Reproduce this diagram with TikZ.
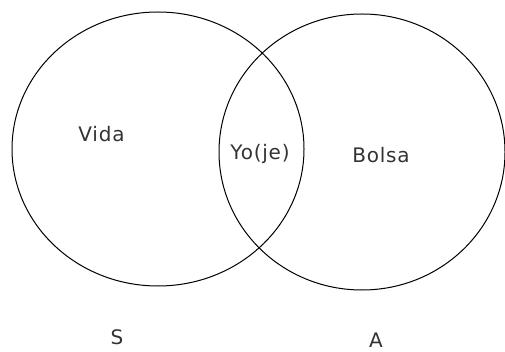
\documentclass[tikz,border=0pt]{standalone}
\usepackage{fontspec}
\setmainfont{DejaVu Sans}[LetterSpace=4]
\usetikzlibrary{shapes.geometric}

\begin{document}
\begin{tikzpicture}
[x=1pt,y=-1pt
,set/.style={ellipse,draw=black,line width=1pt,inner sep=0pt}
,lbl/.style={anchor=base,inner sep=0pt,text=black!80,font=\fontsize{20}{24}\selectfont}
]
\useasboundingbox (0,0) rectangle (505,352);
\node[set,minimum width=292pt,minimum height=274pt] (s) at (158,149) {};
\node[set,minimum width=286pt,minimum height=276pt] (a) at (362,152) {};
\node[lbl] (vida) at (101.5,142) {Vida};
\node[lbl] (yo) at (260,160) {Yo(je)};
\node[lbl] (bolsa) at (381,163) {Bolsa};
\node[lbl] (ls) at (117,344) {S};
\node[lbl] (la) at (376,347) {A};
\end{tikzpicture}
\end{document}
